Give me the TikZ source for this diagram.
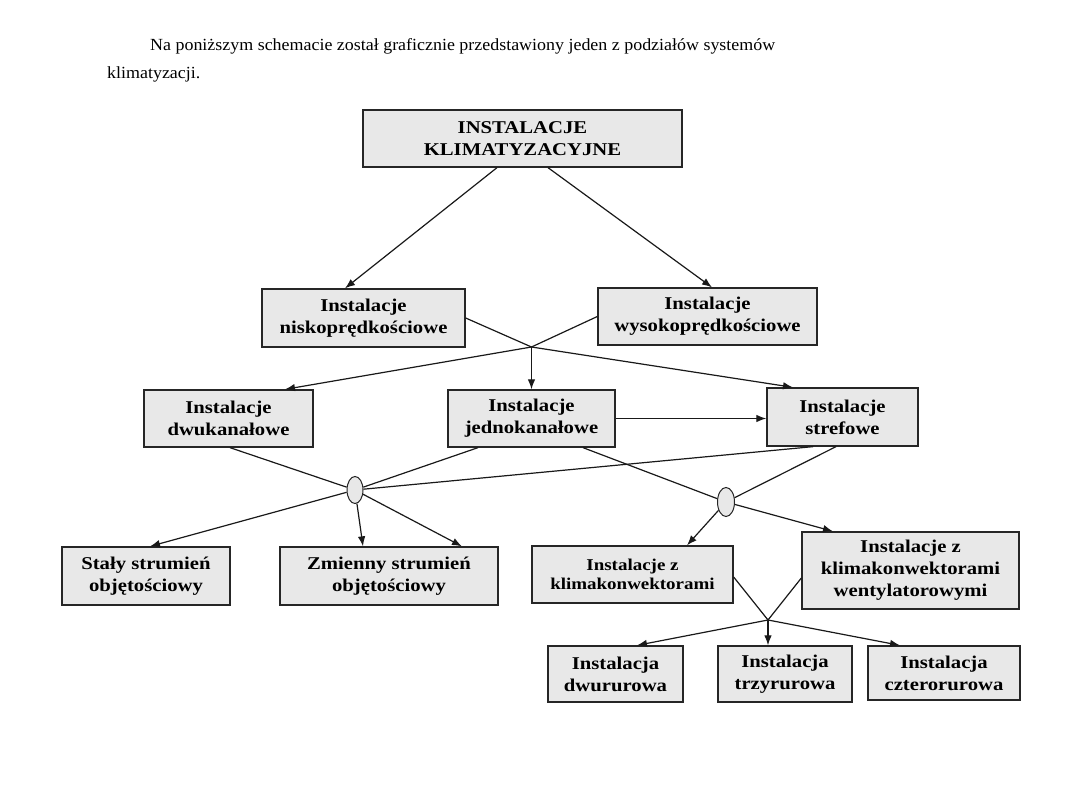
\documentclass[tikz,border=0pt]{standalone}
\usepackage{fontspec}
\setmainfont{Liberation Serif}
\newfontfamily\boxfont[FakeStretch=1.15]{Liberation Serif}
\newfontfamily\bodyfont[FakeStretch=1.055]{Liberation Serif}
\usetikzlibrary{arrows.meta,calc,shapes.geometric}
\begin{document}
\begin{tikzpicture}[x=1pt,y=-1pt,
  box/.style={draw=black!85, line width=1.3pt, fill=black!9, rectangle, inner sep=0pt, align=center,
    font=\boxfont\bfseries\fontsize{18}{22}\selectfont},
  smallbox/.style={box, font=\boxfont\bfseries\fontsize{16.5}{19}\selectfont},
  junc/.style={ellipse, draw=black!85, line width=1pt, fill=black!9, inner sep=0pt},
  conn/.style={line width=1.2pt, draw=black!90},
  arr/.style={conn, -{Latex[length=10pt,width=7.5pt]}},
  body/.style={anchor=base west, inner sep=0pt, font=\bodyfont\fontsize{17}{20}\selectfont}
]
\useasboundingbox (0,0) rectangle (1080,810);
\fill[white] (0,0) rectangle (1080,810);

\node[body] (t1) at (150,51) {Na poniższym schemacie został graficznie przedstawiony jeden z podziałów systemów};
\node[body] (t2) at (107,79) {klimatyzacji.};

\node[box, minimum width=319pt, minimum height=57pt] (top) at (522.5,138.5) {INSTALACJE\\KLIMATYZACYJNE};
\node[box, minimum width=203pt, minimum height=58pt] (nisko) at (363.5,318) {Instalacje\\niskoprędkościowe};
\node[box, minimum width=219pt, minimum height=57pt] (wysoko) at (707.5,316.5) {Instalacje\\wysokoprędkościowe};
\node[box, minimum width=169pt, minimum height=57pt] (dwu) at (228.5,418.5) {Instalacje\\dwukanałowe};
\node[box, minimum width=167pt, minimum height=57pt] (jedno) at (531.5,418.5) {Instalacje\\jednokanałowe};
\node[box, minimum width=151pt, minimum height=58pt] (stref) at (842.5,417) {Instalacje\\strefowe};
\node[box, minimum width=168pt, minimum height=58pt] (staly) at (146,576) {Stały strumień\\objętościowy};
\node[box, minimum width=218pt, minimum height=58pt] (zmienny) at (389,576) {Zmienny strumień\\objętościowy};
\node[smallbox, minimum width=201pt, minimum height=57pt] (klima) at (632.5,574.5) {Instalacje z\\klimakonwektorami};
\node[box, minimum width=217pt, minimum height=77pt] (went) at (910.5,570.5) {Instalacje z\\klimakonwektorami\\wentylatorowymi};
\node[box, minimum width=135pt, minimum height=56pt] (dwur) at (615.5,674) {Instalacja\\dwururowa};
\node[box, minimum width=134pt, minimum height=56pt] (trzy) at (785,674) {Instalacja\\trzyrurowa};
\node[box, minimum width=152pt, minimum height=54pt] (czter) at (944,673) {Instalacja\\czterorurowa};

\node[junc, minimum width=16pt, minimum height=27pt] (e1) at (355,490) {};
\node[junc, minimum width=17pt, minimum height=29pt] (e2) at (726,502) {};
\coordinate (J) at (531.5,347);
\coordinate (J2) at (768,620);

% top level
\draw[arr] ([xshift=-25.5pt]top.south) -- ([xshift=-18.5pt]nisko.north);
\draw[arr] ([xshift=25.5pt]top.south) -- ([xshift=4.5pt]wysoko.north);

% crossing
\draw[arr] (nisko.east) -- (J) -- ([xshift=-49.5pt]stref.north);
\draw[arr] (wysoko.west) -- (J) -- ([xshift=56.5pt]dwu.north);
\draw[arr] (J) -- (jedno.north);
\draw[arr] (jedno.east) -- (jedno.east -| stref.west);

% into e1
\draw[conn] ([xshift=1.5pt]dwu.south) -- (e1);
\draw[conn] ([xshift=-53.5pt]jedno.south) -- (e1);
\draw[conn] ([xshift=-29.5pt]stref.south) -- (e1);
\draw[arr] (e1) -- ([xshift=4pt]staly.north);
\draw[arr] (e1) -- ([xshift=-26pt]zmienny.north);
\draw[arr] (e1) -- ([xshift=73pt]zmienny.north);

% into e2
\draw[conn] ([xshift=51.5pt]jedno.south) -- (e2);
\draw[conn] ([xshift=-6.5pt]stref.south) -- (e2);
\draw[arr] (e2) -- ([xshift=54.5pt]klima.north);
\draw[arr] (e2) -- ([xshift=-77.5pt]went.north);

% fan coils
\draw[conn] ([yshift=-2.5pt]klima.east) -- (J2);
\draw[conn] ([yshift=-7.5pt]went.west) -- (J2);
\draw[arr] (J2) -- ([xshift=21.5pt]dwur.north);
\draw[arr] (J2) -- (J2 |- trzy.north);
\draw[arr] (J2) -- ([xshift=-44pt]czter.north);
\end{tikzpicture}
\end{document}
